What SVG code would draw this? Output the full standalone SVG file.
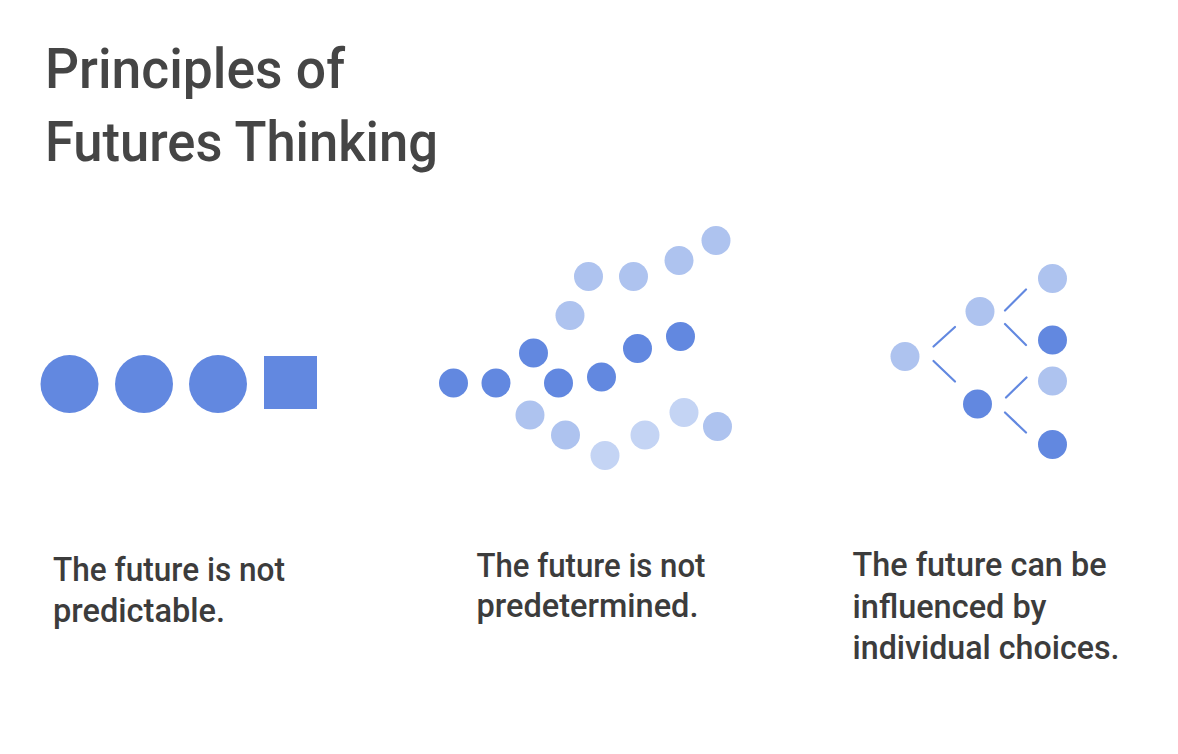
<svg xmlns="http://www.w3.org/2000/svg" width="1178" height="754" viewBox="0 0 1178 754">
  <style>
    .title { font-family: Roboto, "Liberation Sans", Arial, sans-serif; font-weight: 500; font-size: 56px; fill: #454545; }
    .cap { font-family: Roboto, "Liberation Sans", Arial, sans-serif; font-weight: 500; font-size: 33px; fill: #3c3c3c; }
    .dk { fill: #6288e0; }
    .lt { fill: #aec3ef; }
    .lt2 { fill: #c4d4f4; }
    .edge { stroke: #6288e0; stroke-width: 2.2; stroke-linecap: round; fill: none; }
  </style>
  <rect width="1178" height="754" fill="#ffffff"/>

  <g id="title">
    <text class="title" x="45" y="88" textLength="300" lengthAdjust="spacingAndGlyphs">Principles of</text>
    <text class="title" x="45" y="161" textLength="393" lengthAdjust="spacingAndGlyphs">Futures Thinking</text>
  </g>

  <!-- Panel 1: not predictable -->
  <g id="predictable">
    <g id="p1-c1"><circle class="dk" cx="69.5" cy="384" r="29"/></g>
    <g id="p1-c2"><circle class="dk" cx="144" cy="384" r="29"/></g>
    <g id="p1-c3"><circle class="dk" cx="218" cy="384" r="29"/></g>
    <g id="p1-sq"><rect class="dk" x="264" y="356" width="53" height="53"/></g>
  </g>

  <!-- Panel 2: not predetermined -->
  <g id="predetermined">
    <g id="p2-d1"><circle class="dk" cx="453.5" cy="383" r="14.5"/></g>
    <g id="p2-d2"><circle class="dk" cx="496" cy="383" r="14.5"/></g>
    <g id="p2-d3"><circle class="dk" cx="533.5" cy="353" r="14.5"/></g>
    <g id="p2-d4"><circle class="dk" cx="558.5" cy="383" r="14.5"/></g>
    <g id="p2-d5"><circle class="dk" cx="601.5" cy="377" r="14.5"/></g>
    <g id="p2-d6"><circle class="dk" cx="637.5" cy="348.5" r="14.5"/></g>
    <g id="p2-d7"><circle class="dk" cx="680.5" cy="336.5" r="14.5"/></g>
    <g id="p2-u1"><circle class="lt" cx="570" cy="315.5" r="14.5"/></g>
    <g id="p2-u2"><circle class="lt" cx="588.5" cy="276.5" r="14.5"/></g>
    <g id="p2-u3"><circle class="lt" cx="633.5" cy="276.5" r="14.5"/></g>
    <g id="p2-u4"><circle class="lt" cx="679" cy="260.5" r="14.5"/></g>
    <g id="p2-u5"><circle class="lt" cx="716" cy="240.5" r="14.5"/></g>
    <g id="p2-l1"><circle class="lt" cx="530" cy="415" r="14.5"/></g>
    <g id="p2-l2"><circle class="lt" cx="565.5" cy="435" r="14.5"/></g>
    <g id="p2-l3"><circle class="lt2" cx="605" cy="455.5" r="14.5"/></g>
    <g id="p2-l4"><circle class="lt2" cx="645" cy="435" r="14.5"/></g>
    <g id="p2-l5"><circle class="lt2" cx="684" cy="412.5" r="14.5"/></g>
    <g id="p2-l6"><circle class="lt" cx="717.5" cy="426.5" r="14.5"/></g>
  </g>

  <!-- Panel 3: influenced by choices -->
  <g id="tree-connectors">
    <line class="edge" x1="933.5" y1="346.5" x2="955" y2="327"/>
    <line class="edge" x1="933.5" y1="361" x2="955" y2="381.5"/>
    <line class="edge" x1="1005" y1="310.5" x2="1026" y2="289.5"/>
    <line class="edge" x1="1005" y1="324" x2="1026" y2="345"/>
    <line class="edge" x1="1006" y1="397.5" x2="1026.5" y2="377.5"/>
    <line class="edge" x1="1005" y1="412.5" x2="1026" y2="432.5"/>
  </g>
  <g id="tree-root"><circle class="lt" cx="905" cy="356.5" r="14.5"/></g>
  <g id="tree-a"><circle class="lt" cx="980" cy="311.5" r="14.5"/></g>
  <g id="tree-b"><circle class="dk" cx="977.5" cy="404" r="14.5"/></g>
  <g id="tree-a1"><circle class="lt" cx="1052.5" cy="278.5" r="14.5"/></g>
  <g id="tree-a2"><circle class="dk" cx="1052.5" cy="340" r="14.5"/></g>
  <g id="tree-b1"><circle class="lt" cx="1052.5" cy="381" r="14.5"/></g>
  <g id="tree-b2"><circle class="dk" cx="1052.5" cy="444.5" r="14.5"/></g>

  <!-- Captions -->
  <g id="caption-1">
    <text class="cap" x="53" y="581" textLength="232" lengthAdjust="spacingAndGlyphs">The future is not</text>
    <text class="cap" x="53" y="622" textLength="172" lengthAdjust="spacingAndGlyphs">predictable.</text>
  </g>
  <g id="caption-2">
    <text class="cap" x="476.5" y="577" textLength="229" lengthAdjust="spacingAndGlyphs">The future is not</text>
    <text class="cap" x="476.5" y="617" textLength="222" lengthAdjust="spacingAndGlyphs">predetermined.</text>
  </g>
  <g id="caption-3">
    <text class="cap" x="852.5" y="576" textLength="254" lengthAdjust="spacingAndGlyphs">The future can be</text>
    <text class="cap" x="852.5" y="617.5" textLength="194" lengthAdjust="spacingAndGlyphs">influenced by</text>
    <text class="cap" x="852.5" y="659" textLength="267" lengthAdjust="spacingAndGlyphs">individual choices.</text>
  </g>
</svg>
